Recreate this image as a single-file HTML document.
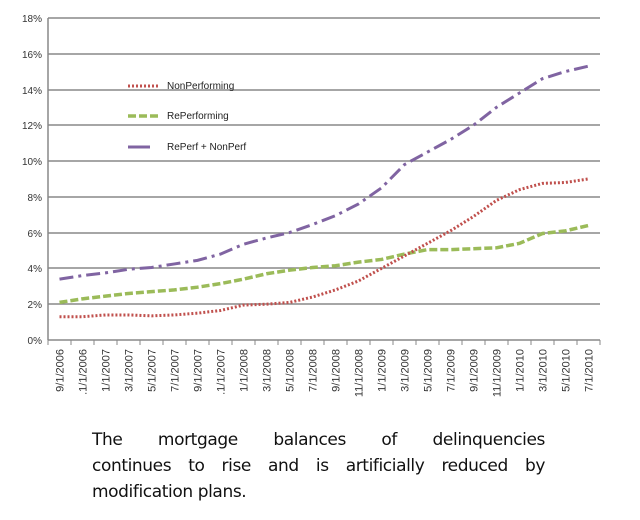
<!DOCTYPE html>
<html><head><style>
body{margin:0;background:#fff;width:640px;height:520px;overflow:hidden;font-family:"Liberation Sans",sans-serif}
#cap{position:absolute;left:92px;top:427px;width:453px;font-family:"DejaVu Sans",sans-serif;font-size:17px;letter-spacing:-0.4px;line-height:26px;color:#111}
#cap div.j{text-align:justify;text-align-last:justify;white-space:nowrap}
</style></head><body>
<svg width="640" height="420" style="position:absolute;left:0;top:0" font-family="Liberation Sans, sans-serif">
<g stroke="#888" stroke-width="1.5">
<line x1="48" x2="600" y1="18" y2="18"/><line x1="48" x2="600" y1="54" y2="54"/><line x1="48" x2="600" y1="90" y2="90"/>
<line x1="48" x2="600" y1="125" y2="125"/><line x1="48" x2="600" y1="161" y2="161"/><line x1="48" x2="600" y1="197" y2="197"/>
<line x1="48" x2="600" y1="233" y2="233"/><line x1="48" x2="600" y1="268" y2="268"/><line x1="48" x2="600" y1="304" y2="304"/>
<line x1="48" x2="600" y1="340" y2="340"/><line x1="48" x2="48" y1="18" y2="340"/>
</g>
<g font-size="10" fill="#333" text-anchor="end">
<text x="42" y="22">18%</text><text x="42" y="58">16%</text><text x="42" y="94">14%</text><text x="42" y="129">12%</text>
<text x="42" y="165">10%</text><text x="42" y="201">8%</text><text x="42" y="237">6%</text><text x="42" y="272">4%</text>
<text x="42" y="308">2%</text><text x="42" y="344">0%</text>
</g>
<g id="ticks" stroke="#888"></g>
<g id="xl" font-size="11" fill="#333"></g>
<polyline id="p3" fill="none" stroke="#8064a2" stroke-width="3" stroke-dasharray="14,5,3,5"/>
<polyline id="p2" fill="none" stroke="#9bbb59" stroke-width="3.5" stroke-dasharray="8,3"/>
<polyline id="p1" fill="none" stroke="#c0504d" stroke-width="3" stroke-dasharray="2,2"/>
<line x1="128" x2="160" y1="86" y2="86" stroke="#c0504d" stroke-width="3" stroke-dasharray="2,2"/>
<line x1="128" x2="160" y1="116" y2="116" stroke="#9bbb59" stroke-width="3.5" stroke-dasharray="8,3"/>
<line x1="128" x2="150" y1="147" y2="147" stroke="#8064a2" stroke-width="3"/>
<g font-size="10" fill="#222"><text x="167" y="89">NonPerforming</text><text x="167" y="119">RePerforming</text><text x="167" y="150">RePerf + NonPerf</text></g>
</svg>
<div id="cap"><div class="j">The mortgage balances of delinquencies</div><div class="j">continues to rise and is artificially reduced by</div><div>modification plans.</div></div>
<script>
var labs=["9/1/2006",".1/1/2006","1/1/2007","3/1/2007","5/1/2007","7/1/2007","9/1/2007",".1/1/2007","1/1/2008","3/1/2008","5/1/2008","7/1/2008","9/1/2008","11/1/2008","1/1/2009","3/1/2009","5/1/2009","7/1/2009","9/1/2009","11/1/2009","1/1/2010","3/1/2010","5/1/2010","7/1/2010"];
var a=[1.3,1.3,1.4,1.4,1.35,1.4,1.5,1.65,1.95,2.0,2.1,2.4,2.8,3.3,4.0,4.7,5.4,6.1,6.9,7.8,8.4,8.75,8.8,9.0];
var b=[2.1,2.3,2.45,2.6,2.7,2.8,2.95,3.15,3.4,3.7,3.9,4.05,4.15,4.35,4.5,4.8,5.05,5.05,5.1,5.15,5.4,5.95,6.1,6.4];
var c=[3.4,3.6,3.75,3.95,4.05,4.25,4.45,4.8,5.35,5.7,6.0,6.45,6.95,7.6,8.5,9.8,10.5,11.2,12.0,13.0,13.8,14.6,15.0,15.3];
var NS="http://www.w3.org/2000/svg";
function X(i){return 59.5+23*i}function Y(v){return 340-v*17.9}
function pts(d){return d.map(function(v,i){return X(i)+","+Y(v)}).join(" ")}
document.getElementById("p1").setAttribute("points",pts(a));
document.getElementById("p2").setAttribute("points",pts(b));
document.getElementById("p3").setAttribute("points",pts(c));
var t=document.getElementById("ticks"),xl=document.getElementById("xl");
for(var i=0;i<=24;i++){var l=document.createElementNS(NS,"line");l.setAttribute("x1",48+23*i);l.setAttribute("x2",48+23*i);l.setAttribute("y1",340);l.setAttribute("y2",345);t.appendChild(l);}
labs.forEach(function(s,i){var e=document.createElementNS(NS,"text");var x=X(i)+4;e.setAttribute("transform","translate("+x+",349) rotate(-90)");e.setAttribute("text-anchor","end");e.textContent=s;xl.appendChild(e);});
</script>
</body></html>
